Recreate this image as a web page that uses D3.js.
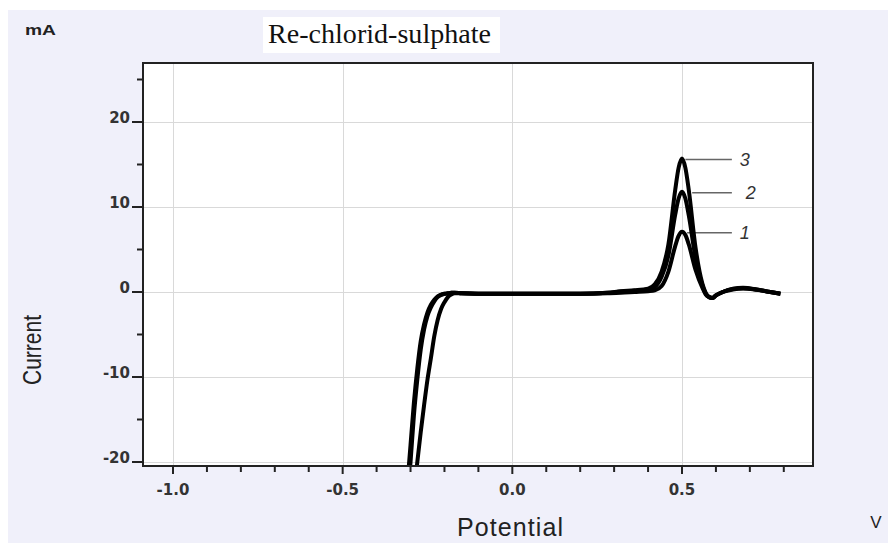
<!DOCTYPE html>
<html><head><meta charset="utf-8">
<script src="https://cdn.jsdelivr.net/npm/d3@7"></script>
<style>html,body{margin:0;padding:0;background:#fff;}svg{display:block;}</style>
</head><body>
<svg id="chart" width="888" height="543"></svg>
<script>
// ---- data ----
const potential = [-0.31,-0.30,-0.29,-0.28,-0.27,-0.26,-0.25,-0.24,-0.23,-0.22,-0.21,-0.20,-0.19,-0.18,-0.17,
  -0.15,-0.10,0.0,0.10,0.20,
  0.28,0.32,0.36,0.40,
  0.42,0.44,0.46,0.48,0.49,0.50,0.51,0.52,0.54,0.56,0.57,0.58,0.59,0.60,0.62,
  0.65,0.68,0.72,0.76,0.79];
const current1 = [-31,-27,-23.5,-20,-16.5,-13.3,-10.3,-7.8,-5.2,-3.3,-2.0,-1.2,-0.6,-0.3,-0.15,
  -0.15,-0.2,-0.2,-0.2,-0.2,
  -0.15,-0.1,0.0,0.1,
  0.2,0.7,2.4,5.4,6.6,7.1,6.7,5.6,2.6,0.5,-0.3,-0.6,-0.7,-0.4,0.0,
  0.3,0.4,0.25,0.0,-0.2];
const current2 = [-25,-20,-14.5,-10.3,-6.8,-4.4,-2.8,-1.8,-1.1,-0.6,-0.35,-0.2,-0.15,-0.1,-0.1,
  -0.15,-0.2,-0.2,-0.2,-0.2,
  -0.1,0.05,0.15,0.3,
  0.6,1.8,4.3,9.1,11.0,11.8,11.0,9.0,4.0,0.8,-0.2,-0.6,-0.7,-0.4,0.0,
  0.35,0.45,0.3,0.0,-0.2];
const current3 = [-23,-18,-13,-9,-5.8,-3.8,-2.4,-1.5,-0.9,-0.5,-0.3,-0.2,-0.15,-0.1,-0.1,
  -0.15,-0.2,-0.2,-0.2,-0.2,
  -0.1,0.1,0.2,0.4,
  0.9,2.4,5.6,12.0,14.6,15.7,14.6,12.0,5.2,1.0,-0.1,-0.6,-0.7,-0.4,0.0,
  0.4,0.5,0.3,0.0,-0.2];
const seriesNames = ["1","2","3"];
const xMajorTicks = [-1.0,-0.5,0.0,0.5];
const xTickLabels = ["-1.0","-0.5","0.0","0.5"];
const xMinorTicks = [-0.9,-0.8,-0.7,-0.6,-0.4,-0.3,-0.2,-0.1,0.1,0.2,0.3,0.4,0.6,0.7,0.8];
const yMajorTicks = [-20,-10,0,10,20];
const yTickLabels = ["-20","-10","0","10","20"];
const yMinorTicks = [-15,-5,5,15,25];
const titleText = "Re-chlorid-sulphate";
const xTitle = "Potential", xUnit = "V", yTitle = "Current", yUnit = "mA";

// ---- layout ----
const svg = d3.select("#chart");
const L = 143, R = 813, T = 63, B = 466;
const x = d3.scaleLinear().domain([-1.0 - 30/339.3, 0.5 + 131/339.3]).range([L, R]);
const y = d3.scaleLinear().domain([-(B-292)/8.5, (292-T)/8.5]).range([B, T]);

svg.append("rect").attr("x",0).attr("y",0).attr("width",888).attr("height",543).attr("fill","#ffffff");
svg.append("rect").attr("x",8).attr("y",10).attr("width",880).attr("height",533).attr("fill","#f0f0fa");
svg.append("rect").attr("x",L).attr("y",T).attr("width",R-L).attr("height",B-T).attr("fill","#ffffff");

// gridlines
const grid = svg.append("g").attr("stroke","#d9d9d9").attr("stroke-width",1);
xMajorTicks.forEach(v => grid.append("line").attr("x1",Math.round(x(v))+0.5).attr("x2",Math.round(x(v))+0.5).attr("y1",T).attr("y2",B));
yMajorTicks.forEach(v => grid.append("line").attr("y1",Math.round(y(v))+0.5).attr("y2",Math.round(y(v))+0.5).attr("x1",L).attr("x2",R));

svg.append("defs").append("clipPath").attr("id","clip").append("rect")
  .attr("x",L).attr("y",T).attr("width",R-L).attr("height",B-T);

const series = [current1, current2, current3];
// leader lines + labels
const leaderEnd = 0.647;
const leaderStart = [0.515, 0.53, 0.51];
const labelOffset = [8, 14, 8];
const lab = svg.append("g");
series.forEach((s,i) => {
  const pk = d3.max(s);
  const yy = y(pk) + 1;
  lab.append("line").attr("x1",x(leaderStart[i])).attr("x2",x(leaderEnd)).attr("y1",yy).attr("y2",yy)
    .attr("stroke","#666").attr("stroke-width",1.5);
  lab.append("text").attr("x",x(leaderEnd)+labelOffset[i]).attr("y",yy+6)
    .attr("font-family","Liberation Sans, Arial, sans-serif").attr("font-style","italic")
    .attr("font-size",18).attr("fill","#333").text(seriesNames[i]);
});

// curves
const line = d3.line().x((d,i)=>x(potential[i])).y(d=>y(d)).curve(d3.curveMonotoneX);
const cg = svg.append("g").attr("clip-path","url(#clip)");
series.forEach(s => {
  cg.append("path").datum(s).attr("d",line).attr("fill","none")
    .attr("stroke","#000").attr("stroke-width",4).attr("stroke-linejoin","round");
});

// frame
svg.append("rect").attr("x",L).attr("y",T).attr("width",R-L).attr("height",B-T)
  .attr("fill","none").attr("stroke","#222").attr("stroke-width",2);

// ticks
const tk = svg.append("g").attr("stroke","#222").attr("stroke-width",2);
xMajorTicks.forEach(v => tk.append("line").attr("x1",x(v)).attr("x2",x(v)).attr("y1",B).attr("y2",B+8));
xMinorTicks.forEach(v => tk.append("line").attr("x1",x(v)).attr("x2",x(v)).attr("y1",B).attr("y2",B+6));
yMajorTicks.forEach(v => tk.append("line").attr("y1",y(v)).attr("y2",y(v)).attr("x1",L-11).attr("x2",L));
yMinorTicks.forEach(v => tk.append("line").attr("y1",y(v)).attr("y2",y(v)).attr("x1",L-6).attr("x2",L));

const tickFont = "DejaVu Sans, sans-serif";
xMajorTicks.forEach((v,i) => svg.append("text").attr("x",x(v)).attr("y",495).attr("text-anchor","middle")
  .attr("font-family",tickFont).attr("font-weight","bold").attr("font-size",15).attr("fill","#333").text(xTickLabels[i]));
yMajorTicks.forEach((v,i) => svg.append("text").attr("x",130).attr("y",y(v)+1).attr("text-anchor","end")
  .attr("font-family",tickFont).attr("font-weight","bold").attr("font-size",15).attr("fill","#333").text(yTickLabels[i]));

// titles
svg.append("rect").attr("x",263).attr("y",17).attr("width",237).attr("height",36).attr("fill","#ffffff");
svg.append("text").attr("x",268).attr("y",43).attr("font-family","Liberation Serif, Times New Roman, serif")
  .attr("font-size",27).attr("fill","#111").attr("textLength",223).attr("lengthAdjust","spacingAndGlyphs").text(titleText);
svg.append("text").attr("x",25).attr("y",35).attr("font-family","Liberation Sans, Arial, sans-serif")
  .attr("font-weight","bold").attr("font-size",14).attr("fill","#222")
  .attr("textLength",31).attr("lengthAdjust","spacingAndGlyphs").text(yUnit);
svg.append("text").attr("transform","translate(41,350) rotate(-90)").attr("text-anchor","middle")
  .attr("font-family","Liberation Sans, Arial, sans-serif").attr("font-size",25).attr("fill","#222")
  .attr("textLength",70).attr("lengthAdjust","spacingAndGlyphs").text(yTitle);
svg.append("text").attr("x",457).attr("y",536).attr("font-family","Liberation Sans, Arial, sans-serif")
  .attr("font-size",25).attr("fill","#222").attr("textLength",106).attr("lengthAdjust","spacing").text(xTitle);
svg.append("text").attr("x",876).attr("y",528).attr("text-anchor","middle").attr("font-family","Liberation Sans, Arial, sans-serif")
  .attr("font-size",17).attr("fill","#222").text(xUnit);
</script>
</body></html>
